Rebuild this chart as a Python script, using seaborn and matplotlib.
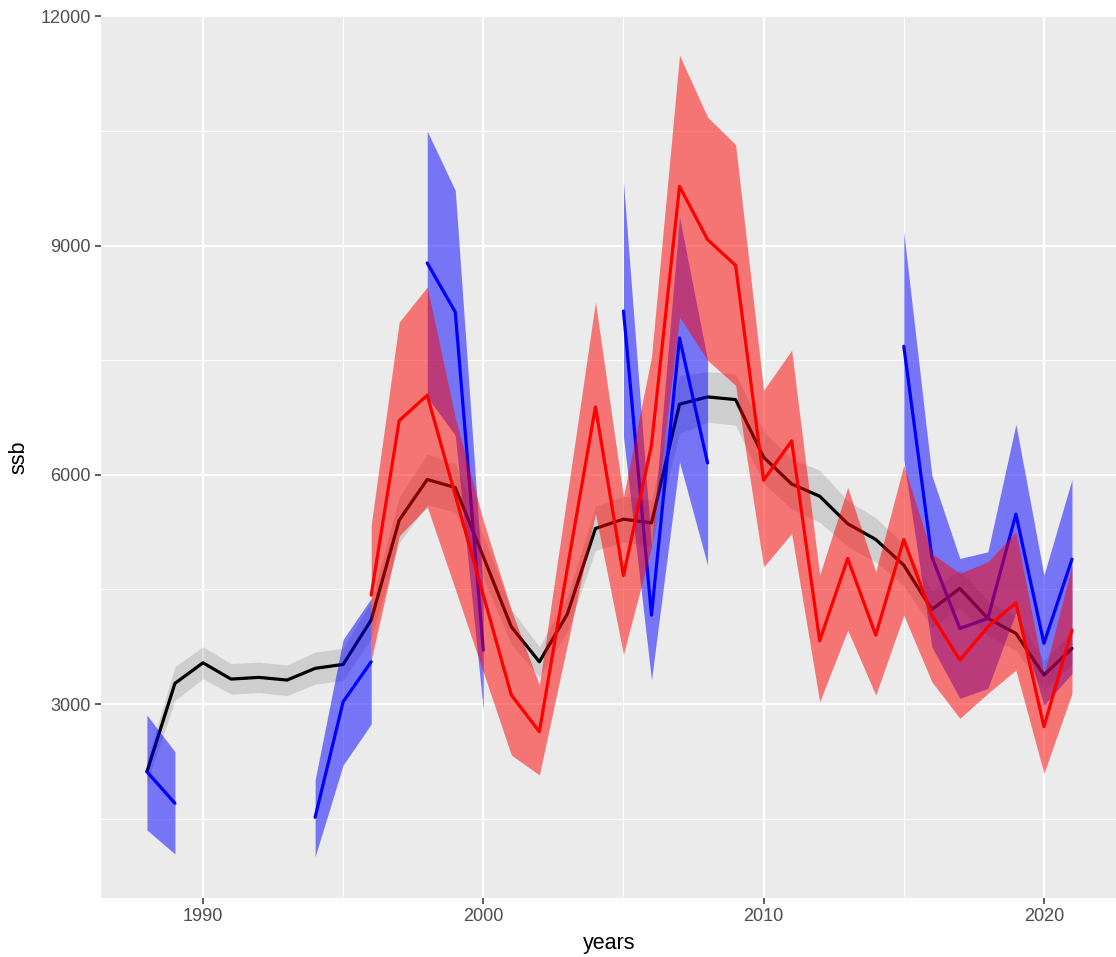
import pandas as pd
import numpy as np
import matplotlib
matplotlib.use("Agg")
import matplotlib.pyplot as plt
import seaborn as sns

# ---- data ------------------------------------------------------------------
years = list(range(1988, 2022))
black_ssb = [2114, 3271, 3540, 3327, 3349, 3314, 3467, 3519, 4099, 5407,
             5939, 5834, 4930, 4011, 3553, 4180, 5298, 5420, 5371, 6924,
             7020, 6985, 6230, 5880, 5720, 5360, 5154, 4818, 4238, 4513,
             4121, 3925, 3379, 3728]
black_lo = [1960, 3050, 3330, 3130, 3150, 3110, 3260, 3310, 3860, 5110,
            5610, 5510, 4650, 3780, 3350, 3950, 5010, 5120, 5070, 6540,
            6690, 6650, 5890, 5550, 5380, 5060, 4860, 4550, 4000, 4260,
            3890, 3700, 3190, 3520]
black_hi = [2260, 3490, 3750, 3530, 3550, 3510, 3680, 3730, 4340, 5710,
            6270, 6150, 5210, 4240, 3750, 4410, 5590, 5720, 5670, 7300,
            7350, 7320, 6570, 6210, 6060, 5660, 5440, 5090, 4480, 4760,
            4350, 4150, 3570, 3940]

red_years = list(range(1996, 2022))
red_ssb = [4426, 6710, 7042, 5734, 4426, 3118, 2638, 4780, 6889, 4680,
           6390, 9776, 9079, 8742, 5930, 6444, 3828, 4905, 3902, 5154,
           4164, 3575, 4011, 4325, 2703, 3968]
red_lo = [3576, 5200, 5581, 4504, 3419, 2333, 2071, 3780, 5494, 3650,
          5058, 8066, 7500, 7172, 4796, 5233, 3030, 3968, 3118, 4164,
          3292, 2813, 3140, 3445, 2094, 3140]
red_hi = [5341, 8000, 8458, 6750, 5400, 4230, 3249, 5750, 8262, 5712,
          7543, 11490, 10683, 10322, 7107, 7630, 4687, 5834, 4731, 6126,
          4971, 4710, 4862, 5254, 3379, 4818]

blue_years = [1988, 1989,
              1994, 1995, 1996,
              1998, 1999, 2000,
              2005, 2006, 2007, 2008,
              2015, 2016, 2017, 2018, 2019, 2020, 2021]
blue_seg = [1, 1,
            2, 2, 2,
            3, 3, 3,
            4, 4, 4, 4,
            5, 5, 5, 5, 5, 5, 5]
blue_ssb = [2114, 1701,
            1518, 3030, 3553,
            8772, 8131, 3706,
            8144, 4164, 7791, 6156,
            7683, 4927, 3990, 4121, 5485, 3794, 4896]
blue_lo = [1352, 1038,
           1003, 2202, 2738,
           7019, 6519, 2922,
           6500, 3314, 6169, 4818,
           6200, 3750, 3075, 3205, 4200, 2987, 3400]
blue_hi = [2856, 2376,
           2006, 3846, 4382,
           10499, 9723, 4500,
           9832, 5060, 9374, 7500,
           9178, 5995, 4905, 4992, 6662, 4687, 5939]

# ---- frames -----------------------------------------------------------------
black = pd.DataFrame({"years": years, "ssb": black_ssb, "lo": black_lo, "hi": black_hi})
red = pd.DataFrame({"years": red_years, "ssb": red_ssb, "lo": red_lo, "hi": red_hi})
blue = pd.DataFrame({"years": blue_years, "seg": blue_seg, "ssb": blue_ssb,
                     "lo": blue_lo, "hi": blue_hi})

# ---- theme (ggplot-like grey) ----------------------------------------------
sns.set_theme(style="darkgrid", rc={
    "axes.facecolor": "#EBEBEB",
    "figure.facecolor": "white",
    "grid.color": "white",
})
plt.rcParams["font.family"] = ["Liberation Sans", "DejaVu Sans"]

fig = plt.figure(figsize=(11.16, 9.57), dpi=100)
ax = fig.add_axes([0.0902, 0.0617, 0.9118, 0.9216])

LW = 2.3

# grey ribbon + black line (bottom layer)
ax.fill_between(black["years"], black["lo"], black["hi"], color="black",
                alpha=0.12, linewidth=0, zorder=2)
sns.lineplot(data=black, x="years", y="ssb", color="black", linewidth=LW,
             ax=ax, zorder=3)

# blue pieces
for s, g in blue.groupby("seg"):
    ax.fill_between(g["years"], g["lo"], g["hi"], color="blue", alpha=0.5,
                    linewidth=0, zorder=4)
sns.lineplot(data=blue, x="years", y="ssb", units="seg", estimator=None,
             color="blue", linewidth=LW, ax=ax, zorder=5)

# red on top
ax.fill_between(red["years"], red["lo"], red["hi"], color="red", alpha=0.5,
                linewidth=0, zorder=6)
sns.lineplot(data=red, x="years", y="ssb", color="red", linewidth=LW,
             ax=ax, zorder=7)

# ---- axes ---------------------------------------------------------------------
ax.set_xlim(1986.35, 2022.65)
ax.set_ylim(462, 12006)
ax.set_xticks([1990, 2000, 2010, 2020])
ax.set_xticks([1995, 2005, 2015], minor=True)
ax.set_yticks([3000, 6000, 9000, 12000])
ax.set_yticks([1500, 4500, 7500, 10500], minor=True)
ax.set_axisbelow(True)
ax.grid(which="major", color="white", linewidth=1.4, zorder=0)
ax.grid(which="minor", color="white", linewidth=0.7, zorder=0)
ax.tick_params(which="major", length=4, width=1.1, color="#333333",
               labelcolor="#4D4D4D", labelsize=13, pad=3,
               bottom=True, left=True)
ax.tick_params(which="minor", length=0)
for sp in ax.spines.values():
    sp.set_visible(False)

ax.set_xlabel("years", fontsize=15.5, color="black", labelpad=6)
ax.set_ylabel("ssb", fontsize=15.5, color="black", labelpad=8)

fig.savefig("out.png", dpi=100)
